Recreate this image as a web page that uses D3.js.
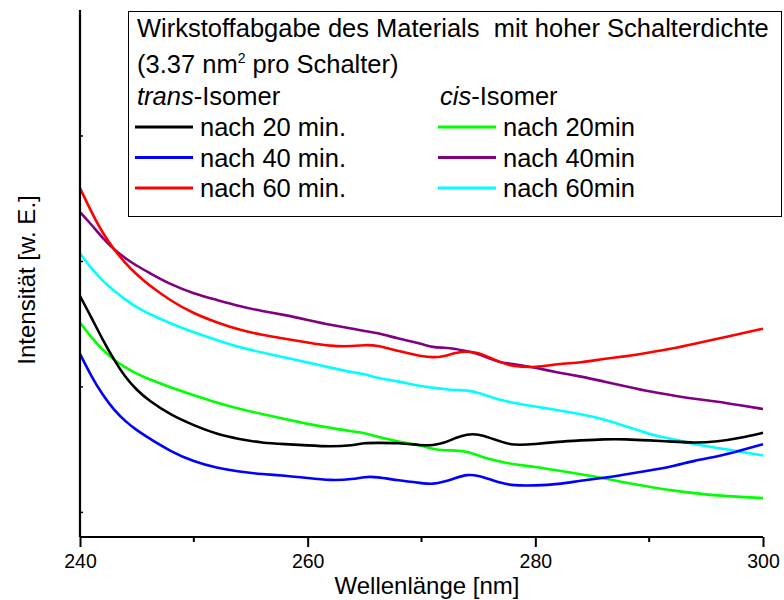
<!DOCTYPE html>
<html><head><meta charset="utf-8">
<script src="https://cdn.jsdelivr.net/npm/d3@7"></script>
<style>
body{margin:0;background:#fff;}
svg{font-family:"Liberation Sans",Arial,sans-serif;}
</style></head>
<body><svg id="c" width="784" height="600"></svg>
<script>
const wavelengths = [240,241,242,243,244,245,246,248,250,252,254,256,258,260,262,264,265,266,268,270,271,272,273,274,275,276,277,278,280,282,284,286,288,290,292,294,296,298,300];
const trans20 = [2.72,2.55,2.37,2.21,2.07,1.97,1.89,1.77,1.69,1.62,1.58,1.55,1.54,1.53,1.52,1.53,1.55,1.55,1.55,1.53,1.53,1.55,1.59,1.62,1.62,1.59,1.56,1.53,1.54,1.56,1.57,1.58,1.58,1.57,1.56,1.55,1.56,1.59,1.63];
const trans40 = [2.26,2.08,1.93,1.81,1.72,1.65,1.59,1.48,1.40,1.35,1.32,1.30,1.29,1.27,1.25,1.26,1.28,1.28,1.25,1.23,1.22,1.24,1.27,1.30,1.29,1.26,1.23,1.21,1.21,1.22,1.25,1.27,1.30,1.33,1.36,1.41,1.44,1.49,1.54];
const trans60 = [3.58,3.39,3.22,3.09,2.98,2.89,2.81,2.68,2.58,2.51,2.45,2.41,2.38,2.35,2.32,2.32,2.33,2.33,2.28,2.24,2.23,2.24,2.27,2.28,2.27,2.23,2.19,2.16,2.15,2.18,2.19,2.22,2.24,2.27,2.30,2.34,2.38,2.42,2.46];
const cis20 = [2.51,2.39,2.29,2.21,2.15,2.10,2.06,1.99,1.93,1.87,1.82,1.78,1.74,1.70,1.67,1.64,1.63,1.60,1.56,1.53,1.50,1.49,1.49,1.48,1.45,1.42,1.40,1.38,1.36,1.33,1.30,1.27,1.23,1.20,1.17,1.15,1.13,1.12,1.11];
const cis40 = [3.39,3.29,3.18,3.09,3.02,2.96,2.91,2.81,2.74,2.69,2.64,2.60,2.57,2.53,2.49,2.46,2.44,2.43,2.38,2.34,2.31,2.31,2.30,2.28,2.26,2.22,2.19,2.18,2.15,2.11,2.08,2.04,2.00,1.96,1.93,1.90,1.88,1.85,1.82];
const cis60 = [3.06,2.94,2.84,2.76,2.69,2.63,2.58,2.50,2.43,2.37,2.31,2.27,2.23,2.19,2.15,2.11,2.10,2.07,2.04,2.00,1.99,1.98,1.97,1.97,1.95,1.92,1.89,1.87,1.84,1.81,1.78,1.74,1.68,1.62,1.58,1.54,1.51,1.48,1.45];
const xMajorTicks = [240,260,280,300];
const xMinorTicks = [250,270,290];
const yTicks = [1,2,3,4];
const seriesNames = ["nach 20 min.","nach 40 min.","nach 60 min.","nach 20min","nach 40min","nach 60min"];
const seriesColors = ["#000000","#0000ff","#ff0000","#00ff00","#800080","#00ffff"];
const seriesValues = [trans20,trans40,trans60,cis20,cis40,cis60];

const svg = d3.select("#c");
const x = d3.scaleLinear().domain([240,300]).range([80,763]);
const y = d3.scaleLinear().domain([0.8,5.0]).range([537,10]);

// curves
const line = d3.line().x(d=>x(d[0])).y(d=>y(d[1])).curve(d3.curveBasis);
const drawOrder = [5,4,3,1,0,2];
drawOrder.forEach(i=>{
  svg.append("path").datum(wavelengths.map((w,k)=>[w,seriesValues[i][k]]))
    .attr("d",line).attr("fill","none").attr("stroke",seriesColors[i])
    .attr("stroke-width",2.6).attr("stroke-linejoin","round");
});

// x axis
const xAxis = svg.append("g").attr("transform","translate(0,537)")
  .call(d3.axisBottom(x).tickValues(xMajorTicks).tickSize(10).tickPadding(7).tickFormat(d3.format("d")));
xAxis.select(".domain").attr("stroke-width",2.2).attr("d","M80,0H763");
xAxis.selectAll(".tick line").attr("stroke-width",2);
xAxis.selectAll(".tick text").attr("font-size",19.5).attr("font-family","Liberation Sans, Arial, sans-serif").attr("fill","#000");
svg.append("g").attr("transform","translate(0,537)").selectAll("line").data(xMinorTicks).join("line")
  .attr("x1",d=>x(d)).attr("x2",d=>x(d)).attr("y1",0).attr("y2",5).attr("stroke","#000").attr("stroke-width",2);

// y axis
const yAxis = svg.append("g").attr("transform","translate(80,0)")
  .call(d3.axisRight(y).tickValues(yTicks).tickSize(3).tickFormat(""));
yAxis.select(".domain").attr("stroke-width",2.2).attr("d","M0,10V537");
yAxis.selectAll(".tick line").attr("stroke-width",1.5);

// axis titles
svg.append("text").attr("x",427).attr("y",594).attr("text-anchor","middle").attr("font-size",24).text("Wellenlänge [nm]");
svg.append("text").attr("transform","translate(35,280) rotate(-90)").attr("text-anchor","middle").attr("font-size",24).text("Intensität [w. E.]");

// legend
const FS = 25.5;
const lg = svg.append("g");
lg.append("rect").attr("x",128.5).attr("y",11.5).attr("width",653).attr("height",205)
  .attr("fill","#fff").attr("stroke","#000").attr("stroke-width",1);
lg.append("text").attr("x",137).attr("y",37).attr("font-size",FS).style("white-space","pre")
  .text("Wirkstoffabgabe des Materials  mit hoher Schalterdichte");
const t2 = lg.append("text").attr("x",137).attr("y",73).attr("font-size",FS);
t2.append("tspan").text("(3.37 nm");
t2.append("tspan").attr("font-size",14).attr("dy",-10).text("2");
t2.append("tspan").attr("dy",10).text(" pro Schalter)");
const t3 = lg.append("text").attr("x",137).attr("y",105).attr("font-size",FS);
t3.append("tspan").attr("font-style","italic").text("trans");
t3.append("tspan").text("-Isomer");
const t4 = lg.append("text").attr("x",440).attr("y",105).attr("font-size",FS);
t4.append("tspan").attr("font-style","italic").text("cis");
t4.append("tspan").text("-Isomer");
seriesNames.forEach((n,i)=>{
  const col = i<3?0:1, row = i%3;
  const lx = col===0?135:438, ty = 127+row*30.5;
  lg.append("line").attr("x1",lx).attr("x2",lx+58).attr("y1",ty).attr("y2",ty)
    .attr("stroke",seriesColors[i]).attr("stroke-width",3);
  lg.append("text").attr("x",lx+65).attr("y",ty+9).attr("font-size",FS).text(n);
});
</script></body></html>
